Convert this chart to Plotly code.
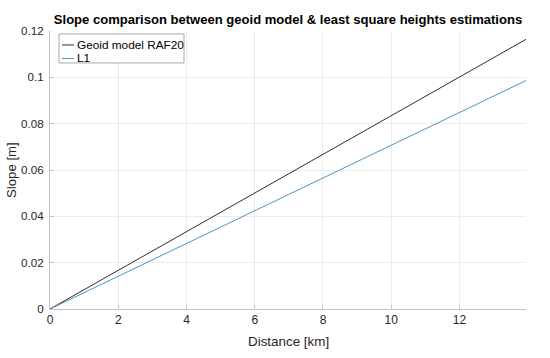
import plotly.graph_objects as go

distance_km = [0, 13.95]
geoid_raf20 = [0, 0.1164]
l1 = [0, 0.0986]
series_names = ["Geoid model RAF20", "L1"]
series_colors = ["#2e2e2e", "#4a98c2"]

x_ticks = [0, 2, 4, 6, 8, 10, 12]
y_ticks = [0, 0.02, 0.04, 0.06, 0.08, 0.1, 0.12]
y_tick_labels = ["0", "0.02", "0.04", "0.06", "0.08", "0.1", "0.12"]

font_family = "Liberation Sans, Arial, Helvetica, sans-serif"

W, H = 550, 358
L, R, T, B = 50, 526, 31, 309.5  # plot area in pixels


def px(x):
    return (x - L) / (R - L)


def py(y):
    return (B - y) / (B - T)


fig = go.Figure()
for ys, name, col in zip([geoid_raf20, l1], series_names, series_colors):
    fig.add_trace(go.Scatter(x=distance_km, y=ys, mode="lines", name=name,
                             line=dict(color=col, width=1), showlegend=False))

# MATLAB-style legend box
shapes = [dict(type="rect", xref="paper", yref="paper",
               x0=px(59), x1=px(184), y0=py(63), y1=py(34),
               line=dict(color="#a8a8a8", width=1), fillcolor="white", layer="above")]
annotations = []
for i, (name, col) in enumerate(zip(series_names, series_colors)):
    yy = 45 + i * 13.5
    shapes.append(dict(type="line", xref="paper", yref="paper",
                       x0=px(62), x1=px(74), y0=py(yy), y1=py(yy),
                       line=dict(color=col, width=1), layer="above"))
    annotations.append(dict(text=name, xref="paper", yref="paper",
                            x=px(75), y=py(yy), xanchor="left", yanchor="middle",
                            showarrow=False,
                            font=dict(size=11.8, color="#000000")))

# axis titles
annotations.append(dict(text="Distance [km]", xref="paper", yref="paper",
                        x=0.5, y=py(342), xanchor="center", yanchor="middle",
                        showarrow=False, font=dict(size=13.4, color="#262626")))
annotations.append(dict(text="Slope [m]", xref="paper", yref="paper",
                        x=px(11), y=0.5, xanchor="center", yanchor="middle", textangle=-90,
                        showarrow=False, font=dict(size=13.2, color="#262626")))

fig.update_layout(
    width=W, height=H,
    margin=dict(l=L, r=W - R, t=T, b=H - B, autoexpand=False),
    paper_bgcolor="white", plot_bgcolor="white",
    font=dict(family=font_family, size=13, color="#262626"),
    title=dict(text="<b>Slope comparison between geoid model & least square heights estimations</b>",
               x=(L + R) / 2 / W, xanchor="center", y=1 - 19 / H, yanchor="middle",
               font=dict(size=13.05, color="#000000")),
    showlegend=False,
    shapes=shapes,
    annotations=annotations,
    xaxis=dict(range=[0, 13.95], tickvals=x_ticks, showgrid=True, automargin=False,
               gridcolor="#ebebeb", gridwidth=1, zeroline=False,
               showline=True, linecolor="#c4c4c4", linewidth=1,
               ticks="inside", ticklen=4, tickcolor="#c4c4c4",
               tickfont=dict(size=12, color="#262626")),
    yaxis=dict(range=[0, 0.12], tickvals=y_ticks, ticktext=y_tick_labels,
               showgrid=True, gridcolor="#ebebeb", gridwidth=1, zeroline=False, automargin=False,
               showline=True, linecolor="#c4c4c4", linewidth=1,
               ticks="inside", ticklen=4, tickcolor="#c4c4c4",
               ticklabelstandoff=3,
               tickfont=dict(size=11.6, color="#262626")),
)

fig.write_html("out.html", config={"displayModeBar": False},
               post_script="document.body.style.margin='0';")
